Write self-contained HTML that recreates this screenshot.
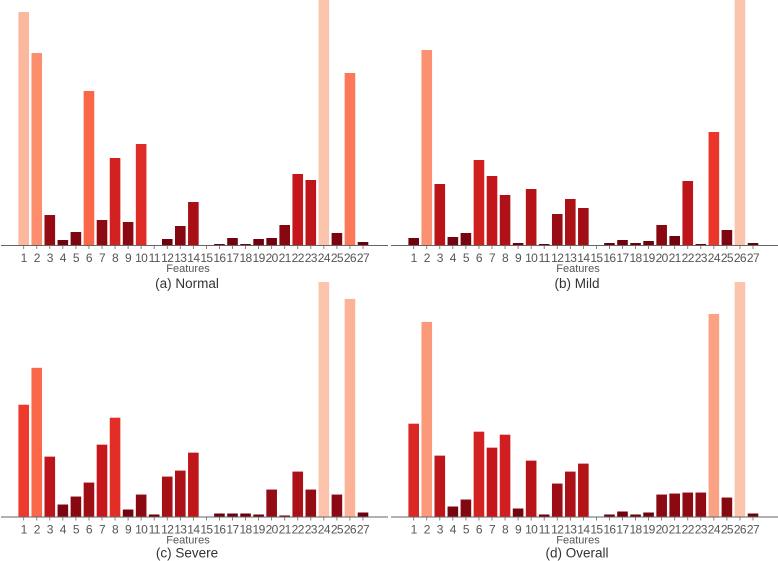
<!DOCTYPE html>
<html><head><meta charset="utf-8"><style>
html,body{margin:0;padding:0;background:#fff;}
svg{display:block;font-family:"Liberation Sans",sans-serif;}
</style></head><body>
<svg id="chart" width="778" height="561" viewBox="0 0 778 561"></svg>
<script>
const categories = ["1","2","3","4","5","6","7","8","9","10","11","12","13","14","15","16","17","18","19","20","21","22","23","24","25","26","27"];
const normalValues = [233,192,30,5,13,154,25,87,23,101,0,6,19,43,0,1,7,1,6,7,20,71,65,245,12,172,3];
const mildValues = [7,195,61,8,12,85,69,50,2,56,1,31,46,37,0,2,5,2,4,20,9,64,1,113,15,245,2];
const severeValues = [112,149,60,12,20,34,72,99,7,22,2,40,46,64,0,3,3,3,2,27,1,45,27,235,22,218,4];
const overallValues = [93,195,61,10,17,85,69,82,8,56,2,33,45,53,0,2,5,2,4,22,23,24,24,203,19,235,3];
const panelTitles = ["(a) Normal","(b) Mild","(c) Severe","(d) Overall"];

const svg = document.getElementById('chart');
const NS = 'http://www.w3.org/2000/svg';
const stops = [[0,'#fff5f0'],[0.125,'#fee0d2'],[0.25,'#fcbba1'],[0.375,'#fc9272'],[0.5,'#fb6a4a'],[0.625,'#ef3b2c'],[0.75,'#cb181d'],[0.875,'#a50f15'],[1,'#67000d']];
function hex(c){return [1,3,5].map(i=>parseInt(c.substr(i,2),16));}
function reds(t){
  for(let i=0;i<stops.length-1;i++){
    if(t<=stops[i+1][0]){
      const f=(t-stops[i][0])/(stops[i+1][0]-stops[i][0]);
      const a=hex(stops[i][1]),b=hex(stops[i+1][1]);
      return 'rgb('+a.map((v,k)=>Math.round(v+(b[k]-v)*f)).join(',')+')';
    }
  }
  return stops[stops.length-1][1];
}
function mk(tag,attrs,parent){const e=document.createElementNS(NS,tag);for(const k in attrs)e.setAttribute(k,attrs[k]);(parent||svg).appendChild(e);return e;}

const panels = [
  {vals:normalValues, x0:0, top:0, base:245, cap:43, title:panelTitles[0]},
  {vals:mildValues, x0:390, top:0, base:245, cap:43, title:panelTitles[1]},
  {vals:severeValues, x0:0, top:282, base:516.5, cap:41, title:panelTitles[2]},
  {vals:overallValues, x0:390, top:282, base:516.5, cap:41, title:panelTitles[3]}
];
panels.forEach((p,pi)=>{
  const g = mk('g',{});
  
  
  const maxV = Math.max(...p.vals);
  const h = p.base - p.top;
  const xScale = i => p.x0 + 23.7 + i*13.05;
  const yScale = v => p.base - v/maxV*h;
  p.vals.forEach((v,i)=>{
    const y = yScale(v);
    const r = mk('rect',{x:xScale(i)-5.3,y:y,width:10.6,height:p.base-y,fill:reds(1-(v/maxV)*0.78)},g);
    
    
  });
  const ax = mk('line',{x1:p.x0+1,x2:p.x0+388,y1:p.base+0.5,y2:p.base+0.5,stroke:'#666','stroke-width':1},g);
  
  
  categories.forEach((c,i)=>{
    mk('line',{x1:xScale(i),x2:xScale(i),y1:p.base+1,y2:p.base+4,stroke:'#666','stroke-width':0.8},g);
    const t = mk('text',{x:xScale(i),y:p.base+17,'text-anchor':'middle','font-size':12,'letter-spacing':'-0.6',fill:'#555'},g);
    t.textContent = c;
    
    
  });
  const xt = mk('text',{x:p.x0+188,y:p.base+27,'text-anchor':'middle','font-size':11,fill:'#555'},g);
  xt.textContent = 'Features';
  
  
  const ct = mk('text',{x:p.x0+187,y:p.base+p.cap,'text-anchor':'middle','font-size':13.5,fill:'#333'},g);
  ct.textContent = p.title;
  
  
});
</script>
</body></html>
